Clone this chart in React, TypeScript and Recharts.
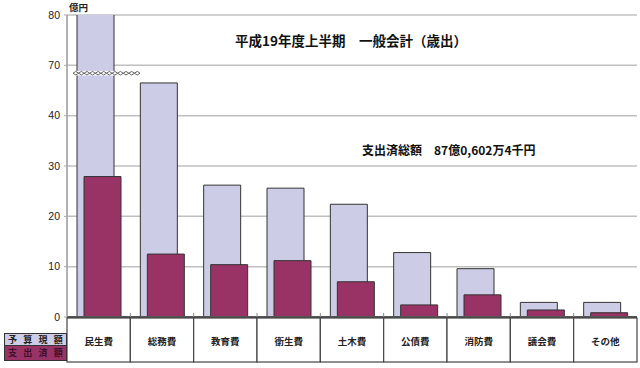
import React from 'react';
import { BarChart, Bar, XAxis, YAxis, CartesianGrid, ReferenceLine } from 'recharts';

const categories = ['民生費', '総務費', '教育費', '衛生費', '土木費', '公債費', '消防費', '議会費', 'その他'];
const budget = [120, 59.5, 26.2, 25.6, 22.4, 12.8, 9.6, 2.9, 2.9];
const spent = [27.9, 12.5, 10.4, 11.2, 7.0, 2.4, 4.4, 1.4, 0.85];
const tickValues = [0, 10, 20, 30, 40, 70, 80];
const seriesNames = ['予算現額', '支出済額'];
const breakValue = 65.3;

const BUDGET_COLOR = '#CDCCE6';
const SPENT_COLOR = '#993366';

// broken axis: 40-70 compressed 3x
const toPlot = (v: number) => (v <= 40 ? v : v <= 70 ? 40 + (v - 40) / 3 : 50 + (v - 70));

const data = categories.map((c, i) => ({ name: c, budget: toPlot(budget[i]), spent: toPlot(spent[i]) }));
const ticks = tickValues.map(toPlot);
const tickLabel = (v: number) => {
  const i = ticks.findIndex((t) => Math.abs(t - v) < 1e-6);
  return i >= 0 ? String(tickValues[i]) : '';
};

const W = 640;
const H = 368;
const MARGIN = { top: 15, right: 3, bottom: 5, left: 0 };
const Y_W = 67;
const X_H = 46;
const AXIS_Y = H - MARGIN.bottom - X_H;
const BW = (W - MARGIN.left - MARGIN.right - Y_W) / categories.length;
const JP = '"Noto Sans CJK JP", "Noto Sans", sans-serif';

const CatTick = (props: any) => {
  const { x, payload, index } = props;
  return (
    <g>
      {index > 0 && <line x1={x - BW / 2} x2={x - BW / 2} y1={AXIS_Y - 4} y2={AXIS_Y} stroke="#888" strokeWidth={1} />}
      <rect x={x - BW / 2} y={AXIS_Y + 1} width={BW} height={44} fill="#fff" stroke="#444" strokeWidth={1.2} />
      <text x={x} y={AXIS_Y + 24} textAnchor="middle" dominantBaseline="central" fontSize={9.5} fontWeight={700} fill="#222" fontFamily={JP}>
        {payload.value}
      </text>
    </g>
  );
};

const Zigzag = (props: any) => {
  const { x1, y1 } = props;
  const start = x1 + 6;
  const n = 12;
  const p = 67 / n;
  const h = 1.8;
  let up = `${start},${y1}`;
  let down = `${start},${y1}`;
  for (let i = 0; i < n; i++) {
    const a = start + i * p;
    up += ` ${a + p / 2},${y1 - h} ${a + p},${y1}`;
    down += ` ${a + p / 2},${y1 + h} ${a + p},${y1}`;
  }
  return (
    <g>
      <rect x={start} y={y1 - h - 0.5} width={67} height={2 * h + 1} fill="#fff" />
      <polyline points={up} fill="none" stroke="#555" strokeWidth={0.9} />
      <polyline points={down} fill="none" stroke="#555" strokeWidth={0.9} />
    </g>
  );
};

export default function App() {
  const colors = [BUDGET_COLOR, SPENT_COLOR];
  return (
    <div style={{ position: 'absolute', left: 0, top: 0, width: W, height: H, background: '#fff' }}>
      <BarChart width={W} height={H} data={data} margin={MARGIN} barSize={37} barGap={-30}>
        <CartesianGrid vertical={false} stroke="#c0c0c0" strokeWidth={1.5} />
        <XAxis
          dataKey="name"
          height={X_H}
          tick={<CatTick />}
          tickLine={false}
          tickSize={0}
          interval={0}
          axisLine={{ stroke: '#555', strokeWidth: 2 }}
        />
        <YAxis
          width={Y_W}
          domain={[0, 60]}
          ticks={ticks}
          allowDataOverflow
          tickFormatter={tickLabel}
          tickSize={3}
          tickMargin={4}
          tickLine={{ stroke: '#aaa' }}
          axisLine={{ stroke: '#999', strokeWidth: 1.5 }}
          tick={{ fontSize: 10.5, fill: '#222', fontFamily: '"Liberation Sans", Arial, sans-serif' }}
        />
        <ReferenceLine x="その他" position="end" stroke="#999" strokeWidth={1.5} />
        <Bar dataKey="budget" name={seriesNames[0]} fill={BUDGET_COLOR} stroke="#333" strokeWidth={1} isAnimationActive={false} />
        <Bar dataKey="spent" name={seriesNames[1]} fill={SPENT_COLOR} stroke="#333" strokeWidth={1} isAnimationActive={false} />
        <ReferenceLine y={toPlot(breakValue)} shape={<Zigzag />} ifOverflow="visible" />
      </BarChart>
      <div style={{ position: 'absolute', left: 69, top: 0, fontSize: 9.5, fontWeight: 700, fontFamily: JP, lineHeight: '14px', color: '#222' }}>億円</div>
      <div style={{ position: 'absolute', left: 235, top: 31, fontSize: 13.5, fontFamily: JP, fontWeight: 700, lineHeight: '18px', color: '#111', whiteSpace: 'nowrap' }}>
        平成19年度上半期　一般会計（歳出）
      </div>
      <div style={{ position: 'absolute', left: 362, top: 142, fontSize: 12, fontFamily: JP, fontWeight: 700, lineHeight: '16px', color: '#111', whiteSpace: 'nowrap' }}>
        支出済総額　87億0,602万4千円
      </div>
      <div style={{ position: 'absolute', left: 4, top: 333, width: 63, fontFamily: JP }}>
        {seriesNames.map((n, i) => (
          <div
            key={n}
            style={{
              height: i === 0 ? 13 : 15,
              background: colors[i],
              border: '1px solid #333',
              borderTop: i === 0 ? '1px solid #333' : 'none',
              boxSizing: 'border-box',
              display: 'flex',
              justifyContent: 'space-around',
              alignItems: 'center',
              fontSize: 9,
              fontWeight: 700,
              lineHeight: '10px',
              color: i === 0 ? '#222' : '#3a1028',
            }}
          >
            {n.split('').map((ch, j) => (
              <span key={j}>{ch}</span>
            ))}
          </div>
        ))}
      </div>
    </div>
  );
}
